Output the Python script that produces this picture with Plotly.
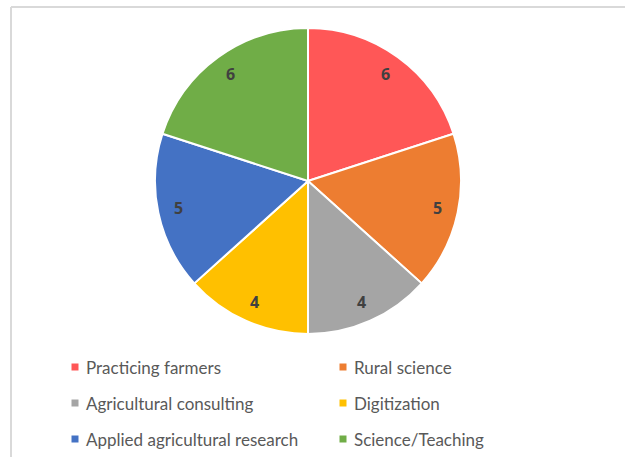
import math
import plotly.graph_objects as go

categories = ["Practicing farmers", "Rural science", "Agricultural consulting",
              "Digitization", "Applied agricultural research", "Science/Teaching"]
values = [6, 5, 4, 4, 5, 6]
colors = ["#FF5757", "#ED7D31", "#A5A5A5", "#FFC000", "#4472C4", "#70AD47"]

W, H = 625, 457
cx, cy, R = 308, 181, 153

fig = go.Figure(go.Pie(
    labels=categories, values=values, sort=False, direction="clockwise",
    rotation=0, marker=dict(colors=colors, line=dict(color="white", width=2)),
    textinfo="none", hoverinfo="label+value", showlegend=False,
    domain=dict(x=[(cx - R) / W, (cx + R) / W], y=[1 - (cy + R) / H, 1 - (cy - R) / H]),
))

annotations = []
total = sum(values)
cum = 0
for v in values:
    mid = (cum + v / 2) / total * 2 * math.pi
    cum += v
    r = 132
    px = cx + r * math.sin(mid)
    py = cy - r * math.cos(mid)
    annotations.append(dict(x=px / W, y=1 - py / H, xref="paper", yref="paper",
                            xanchor="center", yanchor="middle",
                            text=f"<b>{v}</b>", showarrow=False,
                            font=dict(family="Open Sans", size=16, color="#404040")))

bx, by = 11 / W, 1 - 7 / H
shapes = [
    dict(type="line", xref="paper", yref="paper", x0=bx, x1=1.0, y0=by, y1=by,
         line=dict(color="#D9D9D9", width=2), layer="below"),
    dict(type="line", xref="paper", yref="paper", x0=bx, x1=bx, y0=0.0, y1=by,
         line=dict(color="#D9D9D9", width=2), layer="below"),
]

col_x = [75, 343]
row_y = [367, 403, 439]
for i, (name, c) in enumerate(zip(categories, colors)):
    lx = col_x[i % 2]
    ly = row_y[i // 2]
    shapes.append(dict(type="rect", xref="paper", yref="paper",
                       x0=(lx - 3.5) / W, x1=(lx + 3.5) / W,
                       y0=1 - (ly + 3.5) / H, y1=1 - (ly - 3.5) / H,
                       fillcolor=c, line=dict(width=0)))
    annotations.append(dict(x=(lx + 9) / W, y=1 - ly / H, xref="paper", yref="paper",
                            xanchor="left", yanchor="middle", text=name, showarrow=False,
                            font=dict(family="Lato", size=17, color="#595959")))

fig.update_layout(width=W, height=H, margin=dict(l=0, r=0, t=0, b=0),
                  paper_bgcolor="white", plot_bgcolor="white",
                  annotations=annotations, shapes=shapes)
fig.write_html("out.html", config={"displayModeBar": False})

with open("out.html", encoding="utf-8") as f:
    html = f.read()
html = html.replace(
    "<head>",
    "<head><style>html,body{margin:0;padding:0;overflow:hidden;background:#fff;border:0}"
    ".plotly-graph-div{border:0;outline:0}</style>", 1)
with open("out.html", "w", encoding="utf-8") as f:
    f.write(html)
